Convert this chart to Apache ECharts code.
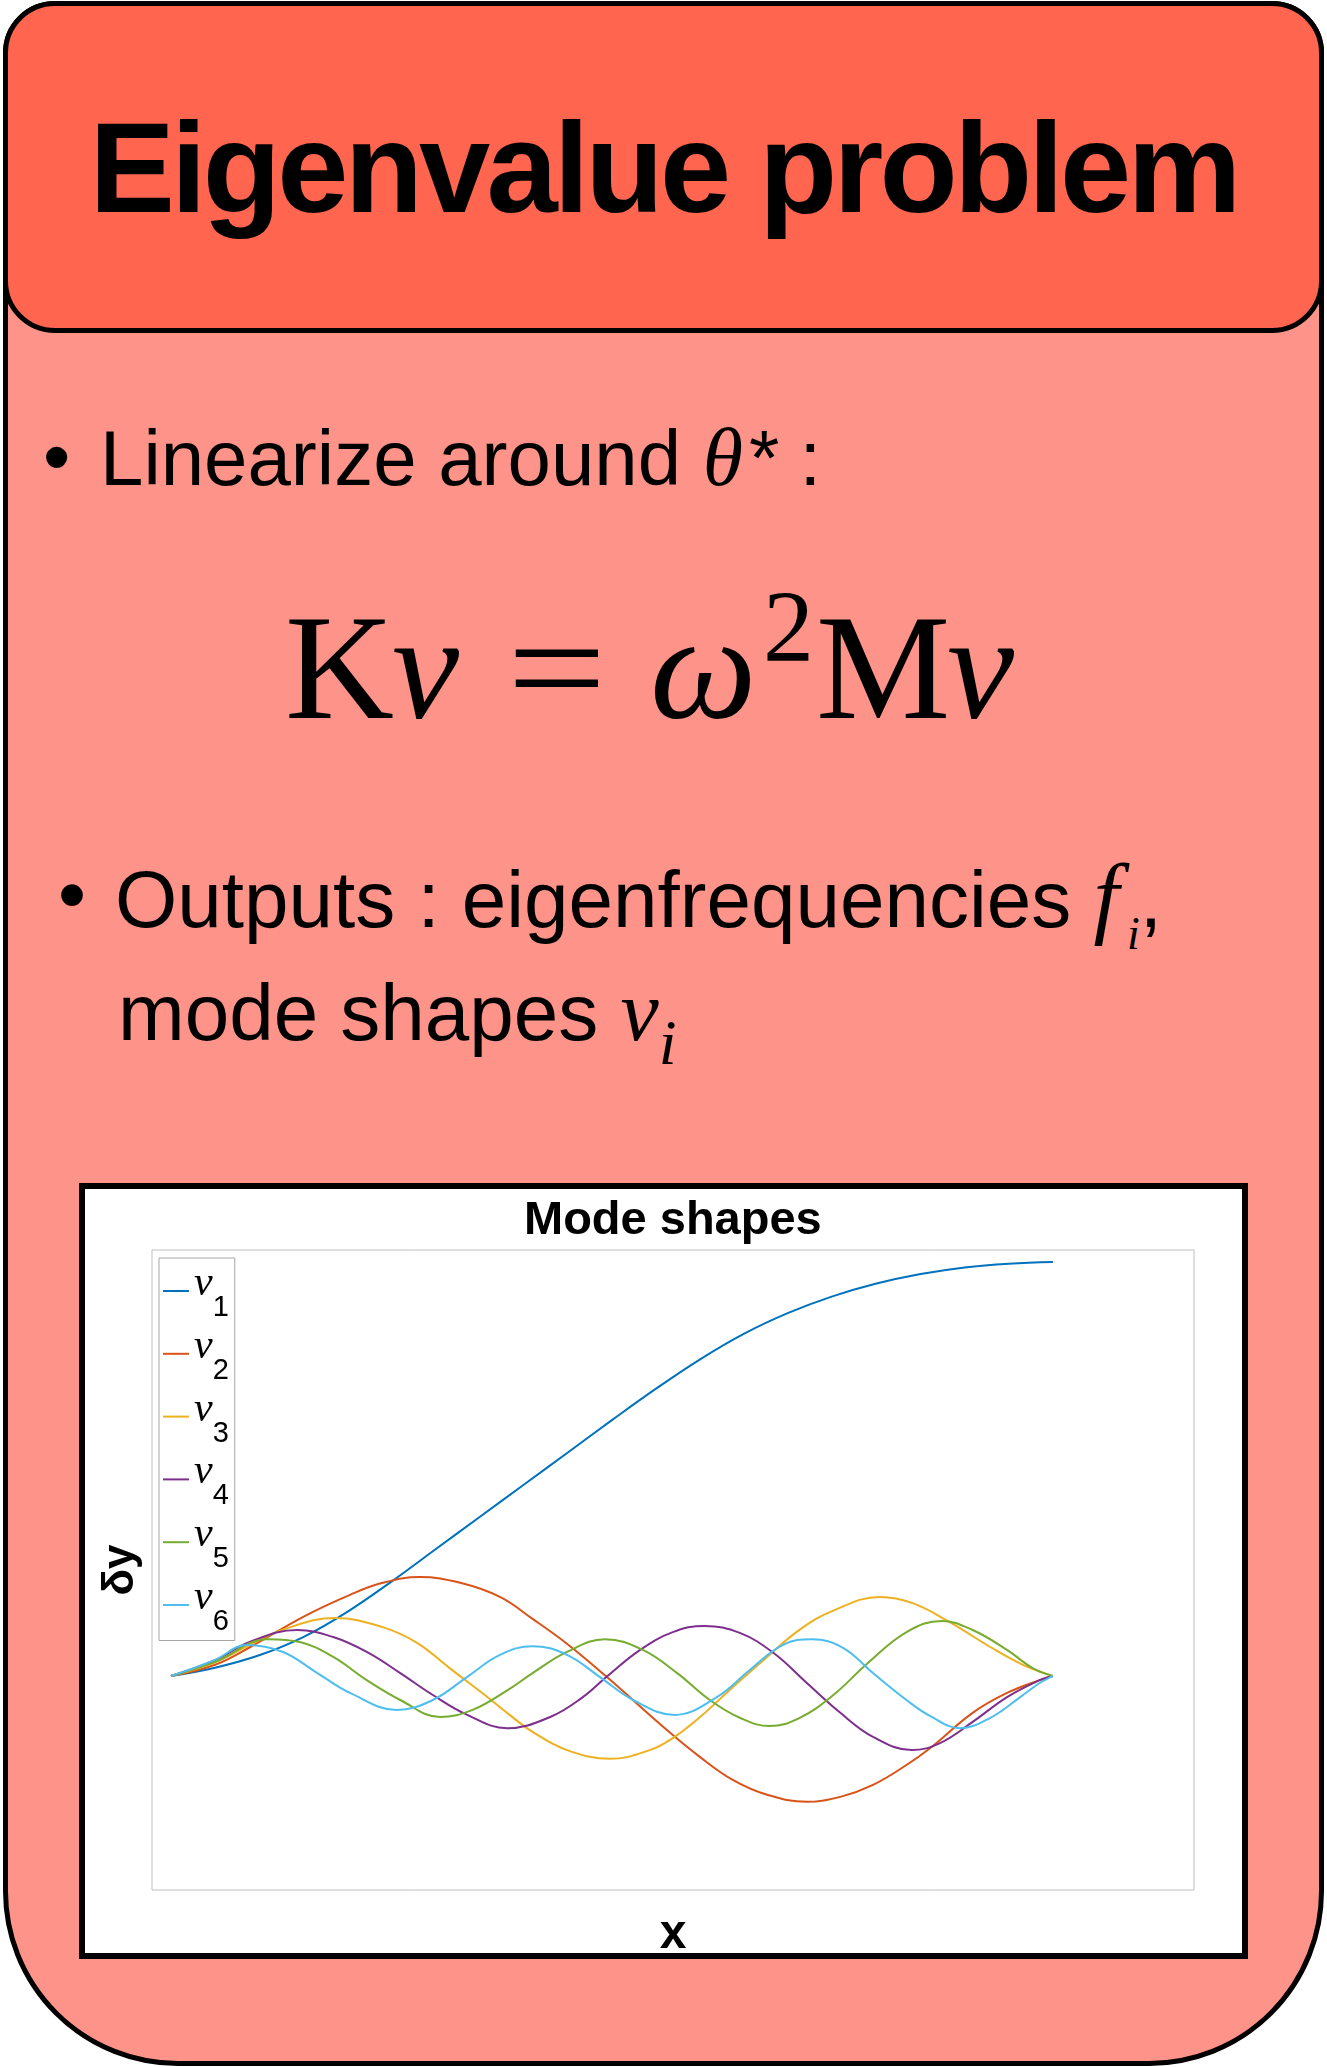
<!DOCTYPE html>
<html>
<head>
<meta charset="utf-8">
<title>Eigenvalue problem</title>
<script src="https://cdn.jsdelivr.net/npm/echarts@6/dist/echarts.min.js"></script>
<style>
  html, body { margin: 0; padding: 0; background: #fff; }
  body { width: 1327px; height: 2067px; position: relative; overflow: hidden; font-family: "Liberation Sans", Arial, sans-serif; color: #000; }
  .abs { position: absolute; line-height: 1; white-space: nowrap; }
  .serif { font-family: "Liberation Serif", "Times New Roman", serif; }
  .it { font-style: italic; }
  #card { position: absolute; left: 3px; top: 1px; width: 1321px; height: 2065px; box-sizing: border-box;
          border: 5px solid #000; border-radius: 52px 52px 175px 175px; background: #fe9489; }
  #head { position: absolute; left: 3px; top: 1px; width: 1321px; height: 332px; box-sizing: border-box;
          border: 5px solid #000; border-radius: 52px; background: #ff654f; }
  #title { left: 0; width: 1327px; top: 104px; text-align: center; font-weight: bold; font-size: 128px; letter-spacing: -3.8px; }
  #frame { position: absolute; left: 79px; top: 1183px; width: 1169px; height: 776px; box-sizing: border-box;
           border: 6px solid #000; background: #fff; }
  #chart { width: 1157px; height: 764px; }
</style>
</head>
<body>
<div id="card"></div>
<div id="head"></div>
<div id="title" class="abs">Eigenvalue problem</div>

<!-- bullet 1 -->
<div class="abs" style="left:43px;top:417px;font-size:78px">•</div>
<div class="abs" style="left:100px;top:417px;font-size:78px">Linearize around <span class="serif it" style="font-size:82px">θ</span><span style="margin-left:6px">*</span><span style="margin-left:20px">:</span></div>

<!-- equation -->
<div class="abs serif" style="left:285px;top:592px;font-size:151px">K</div>
<div class="abs serif it" style="left:392px;top:592px;font-size:151px">ν</div>
<div class="abs serif" style="left:507px;top:592px;font-size:151px;transform:scaleX(1.17);transform-origin:left">=</div>
<div class="abs serif it" style="left:650px;top:592px;font-size:151px">ω</div>
<div class="abs serif" style="left:763px;top:576px;font-size:102px">2</div>
<div class="abs serif" style="left:816px;top:592px;font-size:151px">M</div>
<div class="abs serif it" style="left:947px;top:592px;font-size:151px">ν</div>

<!-- bullet 2 -->
<div class="abs" style="left:58px;top:855px;font-size:80px">•</div>
<div class="abs" style="left:115px;top:850px;font-size:80px">Outputs : eigenfrequencies <span class="serif it" style="font-size:92px">f</span><span class="serif it" style="font-size:46px;position:relative;top:22px;margin-left:8px">i</span>,</div>
<div class="abs" style="left:118px;top:968px;font-size:80px">mode shapes <span class="serif it" style="font-size:86px">ν</span><span class="serif it" style="font-size:64px;position:relative;top:24px">i</span></div>

<div id="frame"><div id="chart"></div></div>

<script>
// mode shapes, x from 0 to 1, y scaled so that nu1 tops out at 1
const modeNames = ['ν1', 'ν2', 'ν3', 'ν4', 'ν5', 'ν6'];
const modeColors = ['#0072BD', '#D95319', '#EDB120', '#7E2F8E', '#77AC30', '#4DBEEE'];

const nu1 = [[0, 0], [0.05, 0.02], [0.1, 0.05], [0.15, 0.094], [0.2, 0.155], [0.25, 0.228], [0.3, 0.306],
    [0.35, 0.384], [0.4, 0.462], [0.45, 0.54], [0.5, 0.618], [0.55, 0.694], [0.6, 0.765], [0.65, 0.827],
    [0.7, 0.877], [0.75, 0.917], [0.8, 0.948], [0.85, 0.971], [0.9, 0.987], [0.95, 0.996], [1, 1]];

const nu2 = [[0, 0], [0.05, 0.027], [0.09, 0.07], [0.15, 0.143], [0.203, 0.196], [0.24, 0.225], [0.282, 0.239],
    [0.328, 0.225], [0.373, 0.191], [0.41, 0.138], [0.449, 0.078], [0.494, -0.002], [0.562, -0.13], [0.6, -0.196],
    [0.637, -0.251], [0.676, -0.287], [0.721, -0.304], [0.759, -0.292], [0.796, -0.263], [0.834, -0.215],
    [0.861, -0.174], [0.909, -0.089], [0.948, -0.041], [0.985, -0.01], [1, 0]];

const nu3 = [[0, 0], [0.05, 0.033], [0.09, 0.076], [0.127, 0.112], [0.186, 0.14], [0.24, 0.118], [0.279, 0.08],
    [0.316, 0.019], [0.354, -0.043], [0.384, -0.094], [0.41, -0.135], [0.449, -0.179], [0.498, -0.2],
    [0.543, -0.179], [0.569, -0.15], [0.6, -0.099], [0.637, -0.027], [0.676, 0.046], [0.713, 0.112],
    [0.751, 0.158], [0.804, 0.191], [0.841, 0.176], [0.883, 0.13], [0.929, 0.07], [0.966, 0.027], [1, 0]];

const nu4 = [[0, 0], [0.05, 0.038], [0.09, 0.083], [0.143, 0.111], [0.184, 0.094], [0.222, 0.058], [0.26, 0.007],
    [0.297, -0.046], [0.336, -0.094], [0.381, -0.126], [0.43, -0.099], [0.467, -0.051], [0.494, -0.002],
    [0.532, 0.063], [0.569, 0.106], [0.605, 0.121], [0.645, 0.104], [0.683, 0.056], [0.721, -0.017],
    [0.759, -0.089], [0.796, -0.147], [0.84, -0.179], [0.872, -0.162], [0.909, -0.111], [0.948, -0.051],
    [0.985, -0.01], [1, 0]];

const nu5 = [[0, 0], [0.05, 0.034], [0.11, 0.089], [0.146, 0.082], [0.184, 0.046], [0.222, -0.01], [0.26, -0.058],
    [0.305, -0.099], [0.342, -0.082], [0.384, -0.031], [0.41, 0.007], [0.449, 0.058], [0.492, 0.089],
    [0.535, 0.063], [0.574, 0.007], [0.611, -0.058], [0.645, -0.101], [0.679, -0.121], [0.713, -0.101],
    [0.751, -0.046], [0.789, 0.029], [0.834, 0.106], [0.874, 0.133], [0.909, 0.111], [0.948, 0.063],
    [0.977, 0.019], [1, 0]];

const nu6 = [[0, 0], [0.05, 0.039], [0.086, 0.075], [0.127, 0.058], [0.166, 0.007], [0.203, -0.041],
    [0.256, -0.082], [0.297, -0.058], [0.336, -0.002], [0.373, 0.051], [0.41, 0.072], [0.449, 0.051],
    [0.486, -0.002], [0.524, -0.058], [0.571, -0.094], [0.619, -0.051], [0.656, 0.014], [0.694, 0.075],
    [0.727, 0.089], [0.762, 0.068], [0.796, 0.007], [0.834, -0.058], [0.861, -0.097], [0.895, -0.126],
    [0.929, -0.101], [0.963, -0.051], [0.985, -0.017], [1, 0]];

const modeData = [nu1, nu2, nu3, nu4, nu5, nu6];

const chart = echarts.init(document.getElementById('chart'));

const option = {
    animation: false,
    textStyle: {fontFamily: 'Liberation Sans'},
    title: {
        text: 'Mode shapes',
        left: 439,
        top: 9,
        padding: 0,
        textStyle: {fontSize: 47, fontWeight: 'bold', color: '#000'}
    },
    grid: {
        left: 67, top: 61, width: 1042, height: 640,
        outerBoundsMode: 'none',
        containLabel: false,
        show: true, borderColor: '#bfbfbf', borderWidth: 1, backgroundColor: '#fff'
    },
    legend: {
        orient: 'vertical',
        left: 74, top: 69,
        padding: [5, 6, 4, 4],
        itemGap: 3.3,
        itemWidth: 26, itemHeight: 2,
        icon: 'rect',
        selectedMode: false,
        backgroundColor: '#fff',
        borderColor: '#a6a6a6',
        borderWidth: 1,
        data: modeNames,
        formatter: name => `{n|ν}{s|${name.slice(1)}}`,
        textStyle: {
            rich: {
                n: {fontFamily: 'Liberation Serif', fontStyle: 'italic', fontSize: 42, color: '#000', padding: [0, 0, 14, 0]},
                s: {fontFamily: 'Liberation Sans', fontSize: 29, color: '#000', padding: [34, 0, 0, 0]}
            }
        }
    },
    xAxis: {
        type: 'value',
        min: -0.0215, max: 1.16,
        name: 'x',
        nameLocation: 'middle',
        nameGap: 21,
        nameTextStyle: {fontSize: 48, fontWeight: 'bold', color: '#000'},
        axisLine: {show: false}, axisTick: {show: false}, axisLabel: {show: false}, splitLine: {show: false}
    },
    yAxis: {
        type: 'value',
        min: -0.517, max: 1.029,
        name: 'δy',
        nameLocation: 'middle',
        nameGap: 9,
        nameTextStyle: {fontSize: 44, fontWeight: 'bold', color: '#000'},
        axisLine: {show: false}, axisTick: {show: false}, axisLabel: {show: false}, splitLine: {show: false}
    },
    series: modeNames.map((name, i) => ({
        name: name,
        type: 'line',
        data: modeData[i],
        smooth: 0.4,
        symbol: 'none',
        color: modeColors[i],
        lineStyle: {width: 2, color: modeColors[i]}
    }))
};

chart.setOption(option);
</script>
</body>
</html>
